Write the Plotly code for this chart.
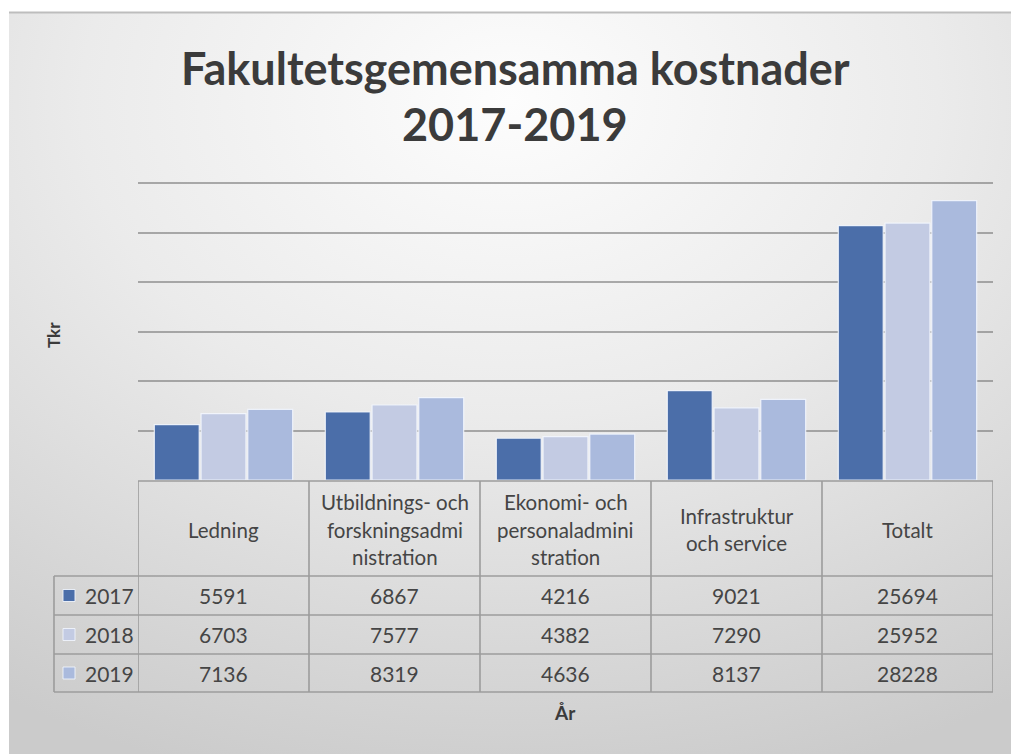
import base64
import plotly.graph_objects as go

# ---------------- data ----------------
categories = ["Ledning", "Utbildnings- och forskningsadministration",
              "Ekonomi- och personaladministration", "Infrastruktur och service", "Totalt"]
header_lines = [["Ledning"],
                ["Utbildnings- och", "forskningsadmi", "nistration"],
                ["Ekonomi- och", "personaladmini", "stration"],
                ["Infrastruktur", "och service"],
                ["Totalt"]]
years = ["2017", "2018", "2019"]
v2017 = [5591, 6867, 4216, 9021, 25694]
v2018 = [6703, 7577, 4382, 7290, 25952]
v2019 = [7136, 8319, 4636, 8137, 28228]
series = [v2017, v2018, v2019]
colors = ["#4b6ea9", "#c3cbe3", "#aabadd"]

title_lines = ["Fakultetsgemensamma kostnader", "2017-2019"]
y_title = "Tkr"
x_title = "År"

W, H = 1011, 754
def px(x):
    return x / W
def py(y):
    return 1 - y / H

# ---------------- layout geometry (pixels) ----------------
plot_left, plot_right = 138, 993
y_max = 30600                       # axis max, slightly above the 30000 gridline
plot_bottom = 480
plot_top = 480 - 297 * y_max / 30000  # 30000 gridline lands at y=183
tab_top, head_bot = 481, 576
row_lines = [576, 615, 654, 692]
leg_left = 54
grid_col = "#9c9c9c"
text_col = "#454545"
FONT = "Lato"

fig = go.Figure()
for yr, vals, c in zip(years, series, colors):
    fig.add_trace(go.Bar(
        x=list(range(len(categories))), y=vals, name=yr,
        marker=dict(color=c, line=dict(color="rgba(245,248,255,0.85)", width=1.2)),
        hovertext=categories, showlegend=False))

# background gradient image
svg = (
    '<svg xmlns="http://www.w3.org/2000/svg" width="1002" height="742" viewBox="0 0 1002 742" '
    'preserveAspectRatio="none"><defs><radialGradient id="g" cx="0.5" cy="0.12" r="0.95">'
    '<stop offset="0" stop-color="#fdfdfd"/><stop offset="0.45" stop-color="#ebebeb"/>'
    '<stop offset="1" stop-color="#cbcbcb"/></radialGradient></defs>'
    '<rect x="0" y="0" width="1002" height="742" fill="url(#g)"/></svg>'
)
src = "data:image/svg+xml;base64," + base64.b64encode(svg.encode()).decode()
images = [dict(source=src, xref="paper", yref="paper", x=px(9), y=py(12),
               sizex=px(1011 - 9), sizey=(754 - 12) / H, sizing="stretch",
               xanchor="left", yanchor="top", layer="below")]

shapes = []
shapes.append(dict(type="line", xref="paper", yref="paper", x0=px(9), x1=1, y0=py(12.5), y1=py(12.5),
                   line=dict(color="#bdbdbd", width=2)))
tl = dict(color=grid_col, width=1.6)
shapes.append(dict(type="line", xref="paper", yref="paper", x0=px(plot_left), x1=px(plot_right),
                   y0=py(tab_top), y1=py(tab_top), line=tl))
for yl in row_lines:
    shapes.append(dict(type="line", xref="paper", yref="paper", x0=px(leg_left), x1=px(plot_right),
                       y0=py(yl), y1=py(yl), line=tl))
for i in range(len(categories) + 1):
    shapes.append(dict(type="line", xref="x", yref="paper", x0=i - 0.5, x1=i - 0.5,
                       y0=py(tab_top), y1=py(row_lines[-1]), line=tl))
shapes.append(dict(type="line", xref="paper", yref="paper", x0=px(leg_left), x1=px(leg_left),
                   y0=py(row_lines[0]), y1=py(row_lines[-1]), line=tl))

def ann(text, x, y, size, color=text_col, xref="paper", xanchor="center", angle=0):
    return dict(text=text, xref=xref, yref="paper", x=x, y=y, showarrow=False,
                xanchor=xanchor, yanchor="middle", textangle=angle,
                font=dict(family=FONT, size=size, color=color))

annotations = []
annotations.append(ann("<b>%s</b>" % title_lines[0], px(515), py(68), 45, "#3b3b3b"))
annotations.append(ann("<b>%s</b>" % title_lines[1], px(515), py(124), 45, "#3b3b3b"))
annotations.append(ann("<b>%s</b>" % y_title, px(53), py(335), 17, "#3b3b3b", angle=-90))
annotations.append(ann("<b>%s</b>" % x_title, px(565), py(712), 19, "#3b3b3b"))

hc = (tab_top + head_bot) / 2 + 1
lsp = 27.5
for i, lines in enumerate(header_lines):
    n = len(lines)
    for j, ln in enumerate(lines):
        yc = hc + (j - (n - 1) / 2) * lsp
        annotations.append(ann(ln, i, py(yc), 20.5, xref="x"))
for r, (yr, vals, c) in enumerate(zip(years, series, colors)):
    yc = (row_lines[r] + row_lines[r + 1]) / 2
    for i, v in enumerate(vals):
        annotations.append(ann(str(v), i, py(yc), 21, xref="x"))
    annotations.append(ann(yr, px(83), py(yc), 21, xanchor="left"))
    shapes.append(dict(type="rect", xref="paper", yref="paper", x0=px(63), x1=px(75),
                       y0=py(yc + 6), y1=py(yc - 6), fillcolor=c,
                       line=dict(color="rgba(240,244,252,0.9)", width=1)))

fig.update_layout(
    width=W, height=H, margin=dict(l=0, r=0, t=0, b=0),
    paper_bgcolor="white", plot_bgcolor="rgba(0,0,0,0)",
    barmode="group", bargap=0.18, bargroupgap=0.04,
    images=images, shapes=shapes, annotations=annotations,
    xaxis=dict(domain=[px(plot_left), px(plot_right)], range=[-0.5, len(categories) - 0.5],
               showticklabels=False, showgrid=False, zeroline=False, fixedrange=True),
    yaxis=dict(domain=[py(plot_bottom), py(plot_top)], range=[0, y_max], dtick=5000,
               showticklabels=False, showgrid=True, gridcolor="rgba(120,120,120,0.6)", gridwidth=1.5,
               zeroline=False, fixedrange=True),
)
fig.write_html("out.html", config={"displayModeBar": False},
               post_script="document.body.style.margin='0';document.body.style.overflow='hidden';")
